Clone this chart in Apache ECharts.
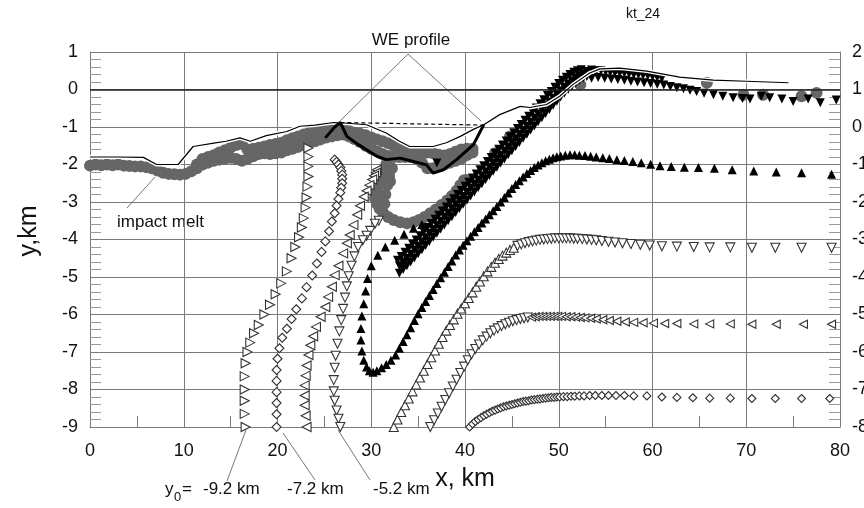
<!DOCTYPE html>
<html>
<head>
<meta charset="utf-8">
<script src="https://cdn.jsdelivr.net/npm/echarts@6/dist/echarts.min.js"></script>
<style>
html,body{margin:0;padding:0;background:#fff;overflow:hidden;}
#chart{width:864px;height:508px;}
</style>
</head>
<body>
<div id="chart"></div>
<script>
// axis ranges (left y in km, right y shifted by +1)
var xRange = [0, 80];
var yLeft = [-9, 1];
var yRight = [-8, 2];

// present-day surface (thin line)
var surfaceLine = [[0,-1.8],[3,-1.8],[5.7,-1.81],[7.1,-2.0],[9.4,-2.0],[11,-1.52],[13.2,-1.43],[14.5,-1.38],[16,-1.29],[17.1,-1.38],[18.8,-1.23],[21,-1.12],[22.4,-0.98],[24,-0.95],[26,-0.88],[27.5,-0.9],[29.5,-0.94],[31.6,-1.16],[33,-1.38],[34.1,-1.52],[36.6,-1.52],[38,-1.42],[39.5,-1.25],[41,-1.05],[42,-0.94],[43.7,-0.67],[45.9,-0.45],[46.9,-0.48],[48.7,-0.4],[50.1,-0.18],[51.5,0.13],[53.3,0.44],[54.4,0.55],[56.5,0.57],[59.4,0.49],[62.9,0.33],[66.5,0.25],[70,0.22],[74.5,0.18]];
var rimLevel = [[26.7,-0.88],[42,-0.95]];
var weProfile = [[25.1,-1.29],[26.1,-1.0],[26.7,-0.88],[27.4,-1.25],[28.5,-1.45],[29.5,-1.61],[30.6,-1.78],[31.6,-1.87],[33.1,-1.83],[34.5,-1.92],[35.9,-2.01],[36.6,-2.23],[37.7,-2.14],[39.1,-1.87],[40.9,-1.47],[42,-0.94]];

// impact melt (grey circles)
var meltTop = [[0,-2.03],[0.6,-2.0],[1.2,-2.02],[1.8,-2.0],[2.4,-2.02],[3.0,-2.0],[3.6,-2.03],[4.2,-2.04],[4.8,-2.05],[5.4,-2.05],[6.0,-2.07],[6.6,-2.1],[7.2,-2.16],[7.8,-2.22],[8.4,-2.25],[9.0,-2.26],[9.6,-2.27],[10.2,-2.25],[10.8,-2.18],[11.4,-2.0],[12.0,-1.85],[12.6,-1.8],[13.2,-1.75],[13.8,-1.68],[14.4,-1.62],[15.0,-1.55],[15.6,-1.48],[16.2,-1.45],[16.8,-1.6],[17.4,-1.58],[18.0,-1.55],[18.6,-1.52],[19.2,-1.48],[19.8,-1.45],[20.4,-1.42],[21.0,-1.35],[21.6,-1.3],[22.2,-1.25],[22.8,-1.2],[23.4,-1.15],[24.0,-1.12],[24.6,-1.1],[25.2,-1.08],[25.8,-1.07],[26.4,-1.07],[27.0,-1.08],[27.6,-1.1],[28.2,-1.15],[28.8,-1.18],[29.4,-1.22],[30.0,-1.28],[30.6,-1.33],[31.2,-1.38],[31.8,-1.43],[32.4,-1.5],[33.0,-1.58],[33.6,-1.64],[34.2,-1.67],[34.8,-1.68],[35.4,-1.68],[36.0,-1.68],[36.6,-1.7],[37.2,-1.74],[37.8,-1.76],[38.4,-1.72],[39.0,-1.66],[39.6,-1.6],[40.2,-1.58],[40.8,-1.58]];
var meltBottom = [[11.4,-2.1],[12.0,-2.0],[12.6,-1.95],[13.2,-1.9],[13.8,-1.87],[14.4,-1.84],[15.0,-1.82],[15.6,-1.85],[16.2,-1.9],[16.8,-1.85],[17.4,-1.78],[18.0,-1.72],[18.6,-1.7],[19.2,-1.72],[19.8,-1.7],[20.4,-1.68],[21.0,-1.62],[21.6,-1.58],[22.2,-1.53],[22.8,-1.48],[23.4,-1.42],[24.0,-1.38],[24.6,-1.33],[25.2,-1.28],[25.8,-1.25],[26.4,-1.22],[27.0,-1.2],[27.6,-1.25],[28.2,-1.32],[28.8,-1.4],[29.4,-1.5],[30.0,-1.58],[30.6,-1.65],[31.2,-1.72],[31.8,-1.77],[32.4,-1.8],[33.0,-1.8],[33.6,-1.8],[34.2,-1.8],[34.8,-1.85],[35.4,-1.95],[36.0,-2.1],[36.6,-2.1],[37.2,-2.05],[37.8,-2.0],[38.4,-1.95],[39.0,-1.9],[39.6,-1.85],[40.2,-1.75],[40.8,-1.68]];
var meltLoop = [[31.6,-2.0],[31.3,-2.15],[31.0,-2.3],[30.8,-2.45],[30.6,-2.6],[30.5,-2.75],[30.4,-2.9],[30.6,-3.05],[30.9,-3.18],[31.3,-3.3],[31.8,-3.4],[32.4,-3.48],[33.1,-3.54],[33.8,-3.57],[34.5,-3.54],[35.1,-3.48],[35.7,-3.4],[36.3,-3.3],[36.9,-3.2],[37.5,-3.08],[38.1,-2.96],[38.6,-2.84],[39.1,-2.7],[39.5,-2.55],[39.9,-2.42],[31.9,-2.3],[31.7,-2.55],[31.5,-2.8],[32.2,-2.1],[32.0,-2.45],[31.4,-3.05],[40.2,-2.41],[43.2,-1.7],[44.8,-1.25]];
var meltFar = [[52.3,0.13],[65.8,0.18],[69.7,-0.14],[71.8,-0.14],[75.9,-0.18],[77.5,-0.09]];

// tracers, y0 = -9.2 km (right-pointing)
var tr92 = [[23.3,-1.56],[23.3,-1.79],[23.3,-2.05],[23.3,-2.32],[23.2,-2.59],[23.1,-2.88],[23.0,-3.15],[22.8,-3.43],[22.6,-3.68],[22.3,-3.94],[21.9,-4.2],[21.5,-4.5],[21.0,-4.85],[20.4,-5.17],[19.8,-5.46],[19.2,-5.74],[18.6,-6.0],[18.0,-6.28],[17.5,-6.5],[17.1,-6.75],[16.8,-7.0],[16.6,-7.3],[16.5,-7.65],[16.5,-8.0],[16.5,-8.3],[16.5,-8.65],[16.6,-9.0]];
// y0 = -7.2 km (diamonds)
var tr72 = [[26.1,-1.87],[26.3,-1.93],[26.5,-2.0],[26.7,-2.08],[26.8,-2.17],[26.9,-2.27],[26.9,-2.38],[26.9,-2.5],[26.8,-2.62],[26.7,-2.75],[26.5,-2.92],[26.3,-3.1],[26.1,-3.3],[25.8,-3.52],[25.5,-3.78],[25.1,-4.05],[24.7,-4.33],[24.2,-4.64],[23.7,-4.96],[23.1,-5.27],[22.6,-5.57],[22.0,-5.86],[21.5,-6.12],[21.0,-6.38],[20.5,-6.62],[20.2,-6.9],[20.0,-7.18],[19.9,-7.48],[19.9,-7.77],[19.9,-8.07],[19.9,-8.36],[19.9,-8.66],[19.9,-9.0]];
// y0 = -6.2 km inner part (left-pointing)
var tr62 = [[30.6,-2.14],[30.5,-2.22],[30.3,-2.3],[30.1,-2.4],[29.8,-2.55],[29.5,-2.7],[29.2,-2.86],[28.8,-3.1],[28.5,-3.34],[28.1,-3.61],[27.7,-3.88],[27.4,-4.1],[27.0,-4.37],[26.5,-4.7],[26.1,-4.95],[25.8,-5.26],[25.4,-5.53],[25.1,-5.8],[24.6,-6.06],[24.1,-6.33],[23.8,-6.58],[23.5,-6.82],[23.3,-7.08],[23.1,-7.36],[23.0,-7.63],[22.9,-7.89],[22.9,-8.16],[22.9,-8.42],[23.0,-8.7],[23.1,-9.0]];
// y0 = -5.2 km (down-pointing)
var tr52 = [[30.8,-3.5],[30.4,-3.58],[29.9,-3.77],[29.5,-3.9],[29.1,-4.02],[28.6,-4.2],[28.2,-4.45],[27.9,-4.7],[27.6,-4.98],[27.4,-5.25],[27.2,-5.55],[27.0,-5.85],[26.8,-6.15],[26.6,-6.45],[26.4,-6.78],[26.2,-7.1],[26.1,-7.42],[26.0,-7.75],[26.0,-8.05],[26.1,-8.3],[26.3,-8.56],[26.5,-8.78],[26.7,-9.0]];

// black up-triangles (layer folded under the uplift, far field at -2.2)
var layerUp = [[35.4,-3.6],[34.5,-3.7],[33.5,-3.86],[32.5,-4.02],[31.5,-4.2],[30.7,-4.42],[30.0,-4.7],[29.6,-5.04],[29.4,-5.37],[29.2,-5.71],[29.0,-6.04],[28.9,-6.37],[28.9,-6.68],[29.0,-6.97],[29.2,-7.22],[29.5,-7.4],[29.8,-7.5],[30.2,-7.54],[30.6,-7.5],[31.1,-7.42],[31.6,-7.33],[32.1,-7.22],[32.6,-7.08],[33.0,-6.9],[33.4,-6.72],[33.8,-6.54],[34.2,-6.35],[34.6,-6.16],[35.0,-5.98],[35.4,-5.81],[35.8,-5.65],[36.2,-5.49],[36.6,-5.33],[37.0,-5.17],[37.4,-5.02],[37.8,-4.87],[38.2,-4.72],[38.6,-4.57],[39.0,-4.41],[39.4,-4.28],[39.8,-4.15],[40.2,-4.03],[40.6,-3.91],[41.0,-3.79],[41.4,-3.68],[41.8,-3.56],[42.2,-3.45],[42.6,-3.34],[43.0,-3.23],[43.4,-3.12],[43.8,-3.0],[44.2,-2.88],[44.6,-2.76],[45.0,-2.64],[45.4,-2.53],[45.8,-2.43],[46.2,-2.33],[46.6,-2.24],[47.0,-2.16],[47.4,-2.08],[47.8,-2.01],[48.2,-1.95],[48.6,-1.9],[49.0,-1.86],[49.4,-1.82],[49.8,-1.79],[50.2,-1.77],[50.7,-1.75],[51.2,-1.74],[51.7,-1.74],[52.2,-1.75],[52.8,-1.76],[53.4,-1.78],[54.0,-1.8],[54.7,-1.82],[55.4,-1.84],[56.2,-1.87],[57.0,-1.89],[57.9,-1.92],[58.8,-1.95],[59.8,-1.99],[60.8,-2.03],[62.0,-2.05],[63.4,-2.07],[64.9,-2.08],[66.6,-2.1],[68.5,-2.14],[70.8,-2.17],[73.2,-2.2],[75.9,-2.22],[79.1,-2.26]];

// black down-triangles (uplifted near-surface layer)
var bandUpper = [[32.8,-4.55],[33.2,-4.45],[33.6,-4.34],[34.0,-4.23],[34.4,-4.12],[34.8,-4.01],[35.2,-3.9],[35.6,-3.79],[36.0,-3.68],[36.4,-3.57],[36.8,-3.46],[37.2,-3.35],[37.6,-3.24],[38.0,-3.13],[38.4,-3.02],[38.8,-2.91],[39.2,-2.8],[39.6,-2.69],[40.0,-2.58],[40.4,-2.47],[40.8,-2.36],[41.2,-2.25],[41.6,-2.14],[42.0,-2.03],[42.4,-1.92],[42.8,-1.81],[43.2,-1.7],[43.6,-1.59],[44.0,-1.48],[44.4,-1.37],[44.8,-1.26],[45.2,-1.15],[45.6,-1.04],[46.0,-0.93],[46.4,-0.82],[46.8,-0.71],[47.2,-0.6],[47.6,-0.49],[48.0,-0.38],[48.4,-0.27],[48.8,-0.16],[49.2,-0.05],[49.6,0.06],[50.0,0.16],[50.4,0.25],[50.8,0.33],[51.2,0.4],[51.6,0.46],[52.0,0.5],[52.4,0.53],[37.0,-1.96]];
var bandMid = [[33.0,-4.7],[33.4,-4.6],[33.8,-4.5],[34.2,-4.39],[34.6,-4.28],[35.0,-4.17],[35.4,-4.06],[35.8,-3.95],[36.2,-3.84],[36.6,-3.73],[37.0,-3.62],[37.4,-3.51],[37.8,-3.4],[38.2,-3.29],[38.6,-3.18],[39.0,-3.07],[39.4,-2.96],[39.8,-2.85],[40.2,-2.74],[40.6,-2.63],[41.0,-2.52],[41.4,-2.41],[41.8,-2.3],[42.2,-2.19],[42.6,-2.08],[43.0,-1.97],[43.4,-1.86],[43.8,-1.75],[44.2,-1.64],[44.6,-1.53],[45.0,-1.42],[45.4,-1.31],[45.8,-1.2],[46.2,-1.09],[46.6,-0.98],[47.0,-0.87],[47.4,-0.76],[47.8,-0.65],[48.2,-0.54],[48.6,-0.43],[49.0,-0.33],[49.4,-0.23],[49.8,-0.13],[50.2,-0.03],[50.6,0.06],[51.0,0.15],[51.4,0.23],[51.8,0.3],[52.2,0.36],[52.6,0.41]];
var bandLower = [[33.0,-4.9],[33.4,-4.8],[33.8,-4.7],[34.2,-4.6],[34.6,-4.49],[35.0,-4.38],[35.4,-4.27],[35.8,-4.16],[36.2,-4.05],[36.6,-3.94],[37.0,-3.83],[37.4,-3.72],[37.8,-3.61],[38.2,-3.5],[38.6,-3.39],[39.0,-3.28],[39.4,-3.17],[39.8,-3.06],[40.2,-2.95],[40.6,-2.84],[41.0,-2.73],[41.4,-2.62],[41.8,-2.51],[42.2,-2.4],[42.6,-2.29],[43.0,-2.18],[43.4,-2.07],[43.8,-1.96],[44.2,-1.85],[44.6,-1.74],[45.0,-1.63],[45.4,-1.52],[45.8,-1.41],[46.2,-1.3],[46.6,-1.19],[47.0,-1.08],[47.4,-0.97],[47.8,-0.86],[48.2,-0.75],[48.6,-0.64],[49.0,-0.53],[49.4,-0.42],[49.8,-0.31],[50.2,-0.2],[50.6,-0.1],[51.0,0.0],[51.4,0.09],[51.8,0.17],[52.2,0.24],[52.6,0.3],[53.0,0.35]];
var rimUpper = [[53.0,0.48],[53.5,0.52],[54.0,0.5],[54.5,0.5],[55.0,0.48],[55.5,0.47],[56.0,0.45],[56.5,0.44],[57.0,0.44],[57.5,0.42],[58.0,0.4],[58.5,0.4],[59.0,0.38],[59.5,0.37],[60.0,0.35],[60.5,0.33],[61.0,0.3]];
var rimLower = [[53.5,0.3],[54.2,0.32],[54.9,0.3],[55.6,0.28],[56.3,0.27],[57.0,0.25],[57.7,0.22],[58.4,0.2],[59.1,0.18],[59.8,0.16],[60.5,0.14],[61.2,0.12],[61.9,0.08],[62.6,0.05],[63.3,0.02],[64.0,-0.02],[64.7,-0.05],[65.5,-0.1],[66.5,-0.14],[67.5,-0.18],[68.6,-0.22],[69.6,-0.24],[70.4,-0.25],[71.6,-0.18],[72.5,-0.22],[73.8,-0.25],[75.0,-0.32],[76.6,-0.25],[77.9,-0.35],[79.6,-0.28]];

// outer layers, open markers
var riseUp = [[32.4,-9.0],[32.8,-8.8],[33.2,-8.6],[33.6,-8.42],[34.0,-8.24],[34.4,-8.05],[34.8,-7.87],[35.2,-7.68],[35.6,-7.5],[36.0,-7.32],[36.4,-7.14],[36.8,-6.96],[37.2,-6.78],[37.6,-6.6],[38.0,-6.43],[38.4,-6.28],[38.8,-6.13],[39.2,-5.98],[39.6,-5.84],[40.0,-5.7],[40.4,-5.56],[40.8,-5.41],[41.2,-5.26],[41.6,-5.12],[42.0,-4.98],[42.4,-4.85],[42.8,-4.73],[43.2,-4.62],[43.6,-4.52],[44.0,-4.43],[44.4,-4.35],[44.8,-4.28],[45.2,-4.22]];
var flat42 = [[45.6,-4.17],[46.0,-4.13],[46.4,-4.1],[46.8,-4.07],[47.2,-4.05],[47.6,-4.03],[48.0,-4.01],[48.4,-4.0],[48.8,-3.99],[49.2,-3.98],[49.6,-3.97],[50.0,-3.97],[50.4,-3.97],[50.8,-3.97],[51.2,-3.97],[51.6,-3.98],[52.0,-3.98],[52.5,-3.99],[53.0,-4.0],[53.5,-4.01],[54.0,-4.02],[54.6,-4.04],[55.3,-4.06],[56.0,-4.08],[56.8,-4.1],[57.7,-4.12],[58.7,-4.14],[59.7,-4.16],[61.0,-4.18],[62.6,-4.19],[64.4,-4.2],[66.1,-4.21],[68.3,-4.21],[70.6,-4.22],[73.1,-4.22],[75.9,-4.22],[79.1,-4.22]];
var riseDown = [[36.3,-9.0],[36.7,-8.82],[37.1,-8.64],[37.5,-8.46],[37.9,-8.28],[38.3,-8.1],[38.7,-7.92],[39.1,-7.74],[39.5,-7.56],[39.9,-7.39],[40.3,-7.22],[40.7,-7.06],[41.1,-6.92],[41.5,-6.8],[41.9,-6.69],[42.3,-6.59],[42.7,-6.5],[43.1,-6.43],[43.5,-6.37],[43.9,-6.31],[44.3,-6.26],[44.7,-6.22],[45.1,-6.18],[45.5,-6.15],[45.9,-6.12],[46.3,-6.1],[46.7,-6.08]];
var flat62 = [[47.1,-6.07],[47.5,-6.06],[47.9,-6.05],[48.3,-6.05],[48.7,-6.05],[49.1,-6.05],[49.5,-6.05],[49.9,-6.05],[50.3,-6.05],[50.8,-6.06],[51.3,-6.06],[51.8,-6.07],[52.3,-6.08],[52.8,-6.09],[53.4,-6.1],[54.0,-6.12],[54.7,-6.14],[55.4,-6.16],[56.2,-6.18],[57.1,-6.2],[58.0,-6.21],[59.0,-6.22],[60.1,-6.23],[61.3,-6.24],[62.6,-6.24],[64.4,-6.25],[66.1,-6.25],[68.3,-6.25],[70.6,-6.26],[73.2,-6.26],[76.1,-6.26],[79.1,-6.26]];
var flat82 = [[40.5,-9.0],[40.8,-8.92],[41.1,-8.85],[41.4,-8.8],[41.7,-8.75],[42.0,-8.7],[42.3,-8.66],[42.6,-8.62],[42.9,-8.58],[43.2,-8.55],[43.5,-8.52],[43.8,-8.49],[44.1,-8.46],[44.4,-8.44],[44.7,-8.42],[45.0,-8.4],[45.3,-8.38],[45.6,-8.36],[45.9,-8.34],[46.2,-8.32],[46.5,-8.31],[46.8,-8.3],[47.1,-8.28],[47.4,-8.27],[47.7,-8.26],[48.0,-8.25],[48.3,-8.24],[48.6,-8.23],[48.9,-8.22],[49.2,-8.21],[49.5,-8.21],[49.8,-8.2],[50.1,-8.2],[50.5,-8.19],[50.9,-8.19],[51.3,-8.18],[51.7,-8.18],[52.2,-8.17],[52.7,-8.17],[53.3,-8.16],[53.9,-8.16],[54.6,-8.16],[55.3,-8.16],[56.1,-8.16],[57.0,-8.16],[58.0,-8.17],[59.4,-8.17],[61.0,-8.2],[62.6,-8.21],[64.3,-8.22],[66.1,-8.23],[68.3,-8.23],[70.6,-8.24],[73.1,-8.24],[75.9,-8.24],[78.9,-8.24]];

var FONT = 'Liberation Sans';
var GRID = '#7a7a7a';

function openPts(data, symbol, rotate, size) {
    return {
        type: 'scatter', data: data, symbol: symbol, symbolRotate: rotate,
        symbolSize: size, clip: false, silent: true,
        itemStyle: { color: '#fff', borderColor: '#333', borderWidth: 1.1, opacity: 1 }
    };
}
function solidPts(data, symbol, rotate, size, color) {
    return {
        type: 'scatter', data: data, symbol: symbol, symbolRotate: rotate,
        symbolSize: size, clip: false, silent: true,
        itemStyle: { color: color, borderWidth: 0, opacity: 1 }
    };
}
function yAxisCfg(range, pos) {
    return {
        type: 'value', min: range[0], max: range[1], interval: 1, position: pos,
        axisLine: { show: true, onZero: false, lineStyle: { color: GRID, width: 1 } },
        axisTick: { show: true, inside: true, length: 11, lineStyle: { color: GRID } },
        minorTick: { show: true, splitNumber: 5, length: 11, lineStyle: { color: '#999' } },
        splitLine: { show: pos === 'left', lineStyle: { color: GRID, width: 1 } },
        axisLabel: { color: '#111', fontSize: 18, fontFamily: FONT, margin: 12 }
    };
}

var myChart = echarts.init(document.getElementById('chart'), null, { width: 864, height: 508 });
var option = {
    animation: false,
    backgroundColor: '#fff',
    grid: { left: 90, top: 52, width: 750, height: 375, containLabel: false, outerBoundsMode: 'none' },
    xAxis: {
        type: 'value', min: xRange[0], max: xRange[1], interval: 10,
        axisLine: { show: true, onZero: false, lineStyle: { color: GRID } },
        axisTick: { show: false, inside: true },
        minorTick: { show: true, splitNumber: 2, length: 11, lineStyle: { color: GRID } },
        splitLine: { show: true, lineStyle: { color: GRID, width: 1 } },
        axisLabel: { color: '#111', fontSize: 18, fontFamily: FONT, margin: 15 }
    },
    yAxis: [yAxisCfg(yLeft, 'left'), yAxisCfg(yRight, 'right')],
    series: [
        solidPts(meltTop.concat(meltBottom, meltLoop, meltFar), 'circle', 0, 12, '#666'),
        openPts(tr92, 'triangle', -90, 9),
        openPts(tr72, 'diamond', 0, 9),
        openPts(tr62, 'triangle', 90, 9),
        openPts(tr52, 'triangle', 180, 9),
        openPts(riseUp, 'triangle', 0, 9),
        openPts(flat42, 'triangle', 180, 9),
        openPts(riseDown, 'triangle', 180, 9),
        openPts(flat62, 'triangle', 90, 8),
        openPts(flat82, 'diamond', 0, 8),
        solidPts(layerUp, 'triangle', 0, 9, '#000'),
        solidPts(bandUpper.concat(bandMid, bandLower, rimUpper, rimLower), 'triangle', 180, 9, '#000'),
        {
            type: 'line', data: surfaceLine, symbol: 'none', silent: true,
            lineStyle: { color: '#fff', width: 4 }
        },
        {
            type: 'line', data: surfaceLine, symbol: 'none', silent: true,
            lineStyle: { color: '#000', width: 1.2 },
            markLine: {
                silent: true, symbol: 'none', label: { show: false },
                lineStyle: { color: '#222', width: 1.5, type: 'solid' },
                data: [{ yAxis: 0 }]
            }
        },
        {
            type: 'line', data: rimLevel, symbol: 'none', silent: true,
            lineStyle: { color: '#000', width: 1.2, type: [4, 3] }
        },
        {
            type: 'line', data: weProfile, symbol: 'none', silent: true,
            lineStyle: { color: '#000', width: 3 }
        }
    ],
    graphic: [
        { type: 'text', x: 643, y: 14, style: { text: 'kt_24', fontSize: 14, fontFamily: FONT, fill: '#111', align: 'center', verticalAlign: 'middle' } },
        { type: 'text', x: 29, y: 231, rotation: Math.PI / 2, style: { text: 'y,km', fontSize: 25, fontFamily: FONT, fill: '#111', align: 'center', verticalAlign: 'middle' } },
        { type: 'text', x: 465, y: 479, style: { text: 'x, km', fontSize: 25, fontFamily: FONT, fill: '#111', align: 'center', verticalAlign: 'middle' } },
        { type: 'text', x: 411, y: 40, style: { text: 'WE profile', fontSize: 17, fontFamily: FONT, fill: '#111', align: 'center', verticalAlign: 'middle' } },
        { type: 'line', shape: { x1: 408, y1: 54, x2: 340, y2: 121 }, style: { stroke: '#777', lineWidth: 1 } },
        { type: 'line', shape: { x1: 408, y1: 54, x2: 481, y2: 121 }, style: { stroke: '#777', lineWidth: 1 } },
        { type: 'text', x: 117, y: 222, style: { text: 'impact melt', fontSize: 17, fontFamily: FONT, fill: '#111', align: 'left', verticalAlign: 'middle' } },
        { type: 'line', shape: { x1: 127, y1: 208, x2: 155, y2: 177 }, style: { stroke: '#777', lineWidth: 1 } },
        { type: 'text', x: 165, y: 489, style: { text: 'y', fontSize: 17, fontFamily: FONT, fill: '#111', align: 'left', verticalAlign: 'middle' } },
        { type: 'text', x: 174, y: 497, style: { text: '0', fontSize: 13, fontFamily: FONT, fill: '#111', align: 'left', verticalAlign: 'middle' } },
        { type: 'text', x: 182, y: 489, style: { text: '=', fontSize: 17, fontFamily: FONT, fill: '#111', align: 'left', verticalAlign: 'middle' } },
        { type: 'text', x: 203, y: 489, style: { text: '-9.2 km', fontSize: 17, fontFamily: FONT, fill: '#111', align: 'left', verticalAlign: 'middle' } },
        { type: 'text', x: 287, y: 489, style: { text: '-7.2 km', fontSize: 17, fontFamily: FONT, fill: '#111', align: 'left', verticalAlign: 'middle' } },
        { type: 'text', x: 373, y: 489, style: { text: '-5.2 km', fontSize: 17, fontFamily: FONT, fill: '#111', align: 'left', verticalAlign: 'middle' } },
        { type: 'line', shape: { x1: 227, y1: 481, x2: 246, y2: 430 }, style: { stroke: '#777', lineWidth: 1 } },
        { type: 'line', shape: { x1: 315, y1: 480, x2: 283, y2: 433 }, style: { stroke: '#777', lineWidth: 1 } },
        { type: 'line', shape: { x1: 370, y1: 480, x2: 338, y2: 430 }, style: { stroke: '#777', lineWidth: 1 } }
    ]
};
myChart.setOption(option);
window.addEventListener('resize', function () {
    myChart.resize();
});
</script>
</body>
</html>
